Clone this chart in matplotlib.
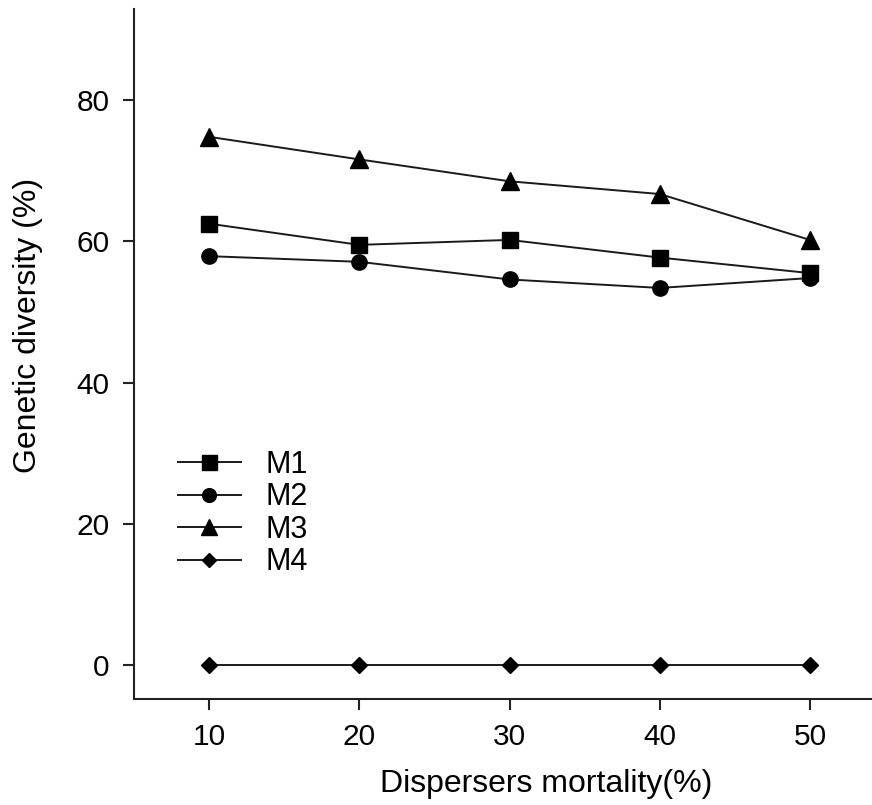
import matplotlib
matplotlib.use("Agg")
import matplotlib.pyplot as plt

mortality = [10, 20, 30, 40, 50]
m1 = [62.5, 59.5, 60.2, 57.7, 55.5]
m2 = [57.9, 57.1, 54.6, 53.4, 54.8]
m3 = [74.8, 71.6, 68.5, 66.7, 60.2]
m4 = [0, 0, 0, 0, 0]
series_names = ["M1", "M2", "M3", "M4"]
xticks = [10, 20, 30, 40, 50]
yticks = [0, 20, 40, 60, 80]

plt.rcParams['font.family'] = ['Liberation Sans', 'DejaVu Sans']

W, H = 872, 805
fig = plt.figure(figsize=(W / 100, H / 100), dpi=100)
ax = fig.add_axes([134 / W, 1 - 699 / H, (872 - 134) / W, (699 - 9) / H])

lc = '#1a1a1a'
styles = [dict(marker='s', markersize=12),
          dict(marker='o', markersize=11),
          dict(marker='^', markersize=13),
          dict(marker='D', markersize=8)]
for vals, name, st in zip([m1, m2, m3, m4], series_names, styles):
    ax.plot(mortality, vals, color=lc, linewidth=1.4, markerfacecolor='black',
            markeredgecolor='black', label=name, clip_on=False, **st)

ax.set_xlim(5.0, 54.13)
ax.set_ylim(-4.81, 92.9)
ax.set_xticks(xticks)
ax.set_yticks(yticks)
for s in ['top', 'right']:
    ax.spines[s].set_visible(False)
for s in ['left', 'bottom']:
    ax.spines[s].set_linewidth(1.5)
    ax.spines[s].set_color('#222222')
ax.tick_params(axis='both', direction='out', length=8, width=1.5, color='#222222',
               labelsize=21.5)
ax.tick_params(axis='x', pad=9)
ax.tick_params(axis='y', pad=9.5)

ax.set_xlabel("Dispersers mortality(%)", fontsize=23)
ax.set_ylabel("Genetic diversity (%)", fontsize=23)
ax.xaxis.set_label_coords(0.559, -0.101)
ax.yaxis.set_label_coords(-0.123, 0.541)

leg = ax.legend(loc='upper left', bbox_to_anchor=(178 / W, 1 - 450 / H),
                bbox_transform=fig.transFigure, frameon=False, fontsize=22,
                handlelength=2.05, handletextpad=0.8, labelspacing=0.08,
                borderpad=0, borderaxespad=0, markerscale=0.9)

fig.savefig("out.png", dpi=100)
